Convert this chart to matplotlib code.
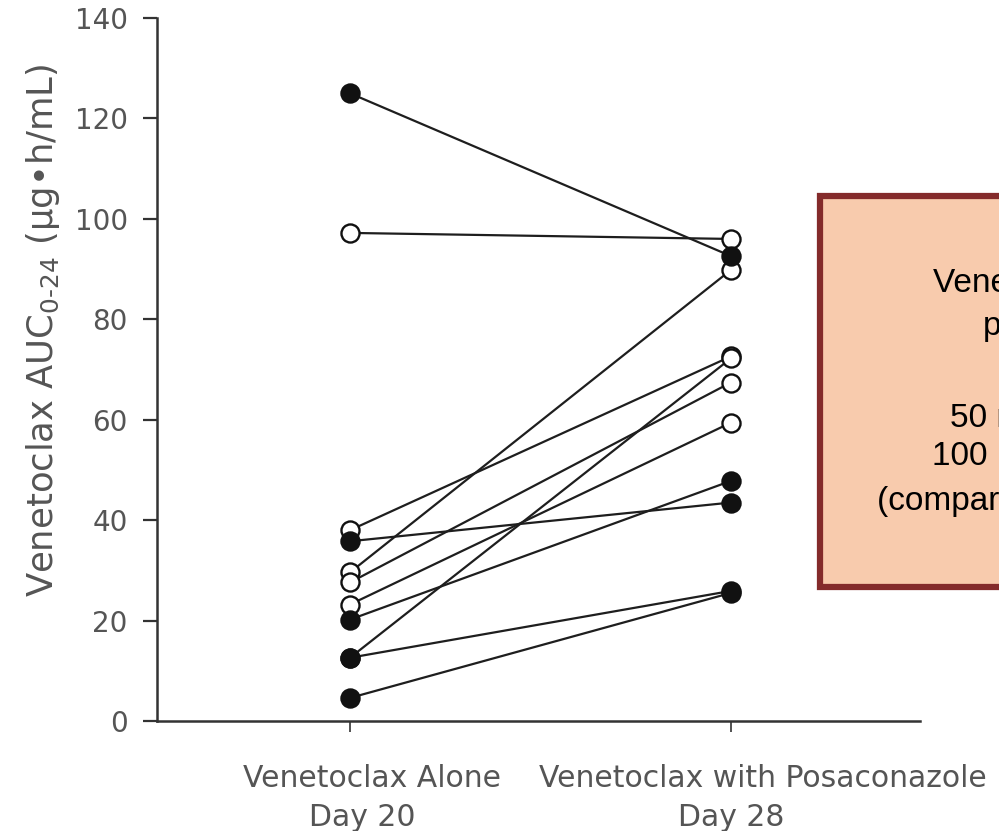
import matplotlib
matplotlib.use("Agg")
import matplotlib.pyplot as plt
from matplotlib.patches import Rectangle
from matplotlib.transforms import offset_copy

# ---- data ----
cat_pos = [0, 1]
cat_line1 = ["Venetoclax Alone", "Venetoclax with Posaconazole"]
cat_line2 = ["Day 20", "Day 28"]
day20_auc = [125.0, 97.2, 38.0, 35.8, 29.6, 27.6, 23.2, 20.2, 12.6, 12.6, 4.6]
day28_auc = [92.6, 96.0, 72.6, 43.5, 89.8, 67.4, 59.4, 47.8, 25.9, 72.2, 25.5]
filled = [True, False, False, True, False, False, False, True, True, False, True]
yticks = [0, 20, 40, 60, 80, 100, 120, 140]
ylabel = r"Venetoclax AUC$_{0\text{-}24}$ (µg•h/mL)"
box_lines = ["Venetoclax dose with", "posaconazole", "50 mg", "100 mg", "(compared to 400 mg alone)"]

W, H = 999, 831
fig = plt.figure(figsize=(W / 100, H / 100), dpi=100)
ax = fig.add_axes([157 / W, 1 - 721 / H, (920 - 157) / W, (721 - 18) / H])

tick_col = "#555555"
line_col = "#1e1e1e"
font = "DejaVu Sans"

# open (hidden) markers first, filled on top
order = sorted(range(len(day20_auc)), key=lambda i: filled[i])
for i in order:
    ax.plot([0, 1], [day20_auc[i], day28_auc[i]], color=line_col, lw=1.6, zorder=2)
for i in order:
    fc = "#111111" if filled[i] else "white"
    z = 4 if filled[i] else 3
    ax.plot([0, 1], [day20_auc[i], day28_auc[i]], linestyle="none", marker="o",
            markersize=13, markerfacecolor=fc, markeredgecolor="#111111",
            markeredgewidth=1.7, zorder=z)

ax.set_xlim(-0.507, 1.497)
ax.set_ylim(0, 140)
ax.set_yticks(yticks)
ax.set_xticks(cat_pos)
ax.set_xticklabels([""] * len(cat_pos))
ax.set_yticklabels([str(t) for t in yticks], fontsize=20, color=tick_col, family=font)
ax.tick_params(axis="y", direction="out", length=10, width=1.6, color="#333333", pad=11)
ax.tick_params(axis="x", direction="out", length=8, width=1.2, color="#333333")
for s in ["top", "right"]:
    ax.spines[s].set_visible(False)
for s in ["left", "bottom"]:
    ax.spines[s].set_color("#333333")
    ax.spines[s].set_linewidth(1.8)

# category labels (two lines, placed below the axis)
xt = ax.get_xaxis_transform()
offs1 = [22, 32]
offs2 = [12, 0]
for p, l1, l2, o1, o2 in zip(cat_pos, cat_line1, cat_line2, offs1, offs2):
    ax.text(p, 0, l1, transform=offset_copy(xt, fig=fig, x=o1, y=-66, units="dots"),
            fontsize=21.5, color=tick_col, family=font, ha="center", va="baseline")
    ax.text(p, 0, l2, transform=offset_copy(xt, fig=fig, x=o2, y=-105, units="dots"),
            fontsize=21.5, color=tick_col, family=font, ha="center", va="baseline")

ax.set_ylabel(ylabel, fontsize=25.5, color=tick_col, family=font)
ax.yaxis.set_label_coords((62 - 157) / 763, (721 - 330) / 703)

# annotation box (cut by the figure edge)
rect = Rectangle((820 / W, 1 - 587 / H), 300 / W, (587 - 196) / H, transform=fig.transFigure,
                 facecolor="#F8CBAD", edgecolor="#842B2B", linewidth=4.5, zorder=5,
                 clip_on=False)
fig.patches.append(rect)
starts = [(933, 292), (983, 335), (950, 427), (932, 465), (877, 510)]
for txt, (x, y) in zip(box_lines, starts):
    fig.text(x / W, 1 - y / H, txt, fontsize=24, family="Liberation Sans", color="black",
             ha="left", va="baseline", zorder=6)

fig.savefig("out.png", dpi=100)
